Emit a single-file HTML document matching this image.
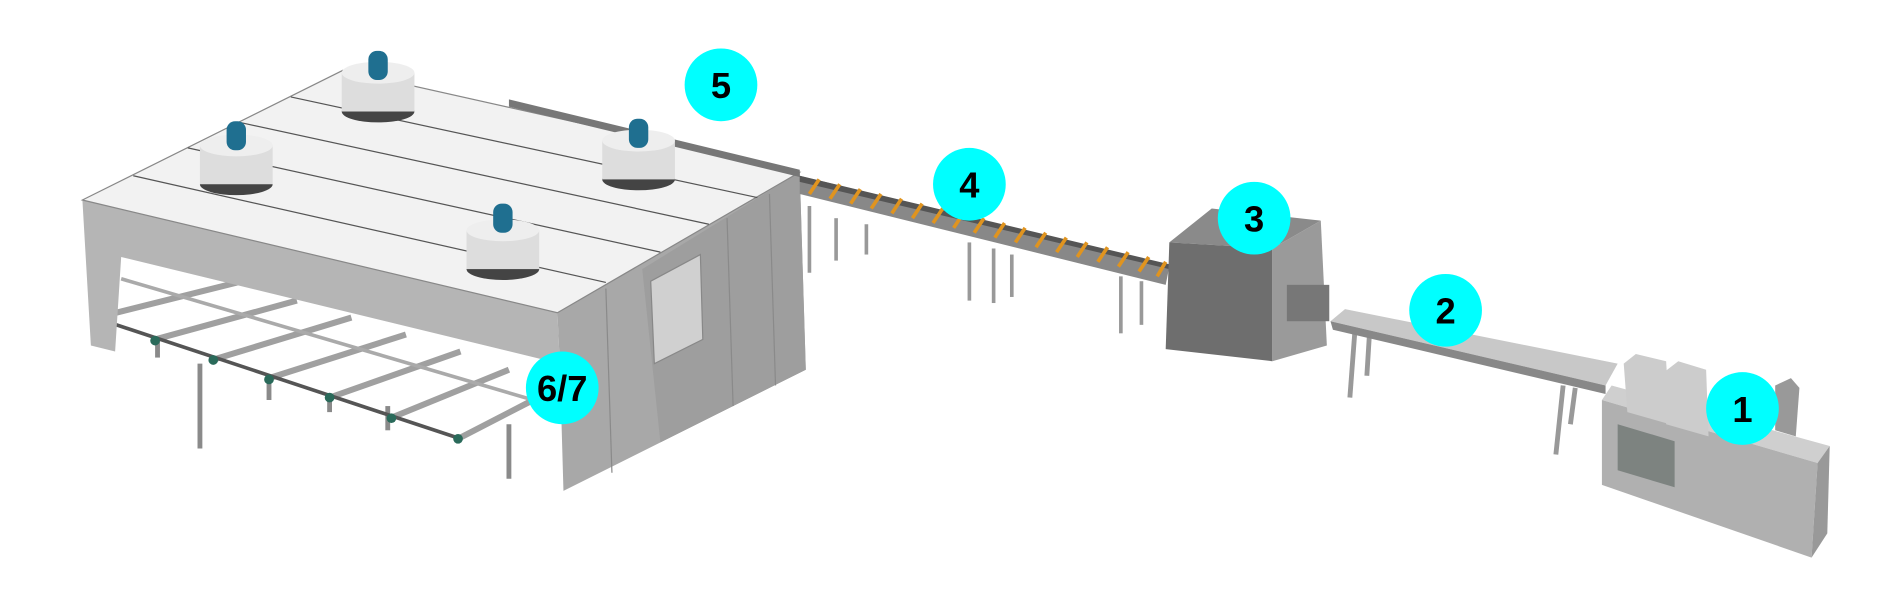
<!DOCTYPE html>
<html><head><meta charset="utf-8"><style>
html,body{margin:0;padding:0;background:#fff;}
svg{display:block}
text{font-family:"Liberation Sans",Arial,sans-serif;font-weight:bold;fill:#000}
</style></head><body>
<svg width="1900" height="600" viewBox="0 0 1568 495" preserveAspectRatio="none" xmlns="http://www.w3.org/2000/svg">
<!-- oven legs / conveyor under -->
<g stroke="#8a8a8a" stroke-width="4" fill="none">
<line x1="130" y1="280" x2="130" y2="295"/><line x1="165" y1="300" x2="165" y2="370"/>
<line x1="222" y1="315" x2="222" y2="330"/><line x1="272" y1="325" x2="272" y2="340"/>
<line x1="320" y1="335" x2="320" y2="355"/><line x1="420" y1="350" x2="420" y2="395"/>
</g>
<g stroke="#a0a0a0" stroke-width="5">
<line x1="80" y1="262" x2="200" y2="232"/><line x1="128" y1="280" x2="245" y2="248"/>
<line x1="175" y1="297" x2="290" y2="262"/><line x1="222" y1="312" x2="335" y2="276"/>
<line x1="272" y1="328" x2="380" y2="290"/><line x1="322" y1="345" x2="420" y2="305"/>
<line x1="378" y1="362" x2="440" y2="330"/>
</g>
<line x1="78" y1="262" x2="380" y2="362" stroke="#555" stroke-width="3"/>
<line x1="100" y1="230" x2="440" y2="330" stroke="#aaa" stroke-width="3"/>
<g fill="#2a6a5a"><circle cx="80" cy="264" r="4"/><circle cx="128" cy="281" r="4"/><circle cx="176" cy="297" r="4"/><circle cx="222" cy="313" r="4"/><circle cx="272" cy="328" r="4"/><circle cx="323" cy="345" r="4"/><circle cx="378" cy="362" r="4"/></g>
<!-- oven front skirt -->
<polygon points="68,165 460,258 462,300 100,212 95,290 75,285" fill="#b5b5b5"/>
<!-- right end face -->
<polygon points="460,258 660,142 665,305 465,405 462,300" fill="#a8a8a8"/>
<polygon points="530,222 660,142 665,305 545,365" fill="#9e9e9e"/>
<polygon points="537,232 578,210 580,280 540,300" fill="#d0d0d0" stroke="#888"/>
<line x1="500" y1="238" x2="505" y2="390" stroke="#8a8a8a"/>
<line x1="600" y1="180" x2="605" y2="335" stroke="#8a8a8a"/>
<line x1="635" y1="160" x2="640" y2="318" stroke="#8a8a8a"/>
<!-- top -->
<polygon points="68,165 283,58 660,142 460,258" fill="#f2f2f2" stroke="#888" stroke-width="1"/>
<polygon points="420,82 660,140 660,146 420,88" fill="#777"/>
<g stroke="#555" stroke-width="1">
<line x1="110" y1="145" x2="500" y2="233"/><line x1="155" y1="122" x2="545" y2="208"/>
<line x1="198" y1="101" x2="585" y2="185"/><line x1="240" y1="80" x2="625" y2="163"/>
</g>
<!-- fans -->
<g>
<ellipse cx="195" cy="152" rx="30" ry="9" fill="#444"/><rect x="165" y="120" width="60" height="32" fill="#ddd"/><ellipse cx="195" cy="120" rx="30" ry="9" fill="#eee"/><rect x="187" y="100" width="16" height="24" rx="7" fill="#1f6f90"/>
<ellipse cx="312" cy="92" rx="30" ry="9" fill="#444"/><rect x="282" y="60" width="60" height="32" fill="#ddd"/><ellipse cx="312" cy="60" rx="30" ry="9" fill="#eee"/><rect x="304" y="42" width="16" height="24" rx="7" fill="#1f6f90"/>
<ellipse cx="527" cy="148" rx="30" ry="9" fill="#444"/><rect x="497" y="116" width="60" height="32" fill="#ddd"/><ellipse cx="527" cy="116" rx="30" ry="9" fill="#eee"/><rect x="519" y="98" width="16" height="24" rx="7" fill="#1f6f90"/>
<ellipse cx="415" cy="222" rx="30" ry="9" fill="#444"/><rect x="385" y="190" width="60" height="32" fill="#ddd"/><ellipse cx="415" cy="190" rx="30" ry="9" fill="#eee"/><rect x="407" y="168" width="16" height="24" rx="7" fill="#1f6f90"/>
</g>
<!-- conveyor 4 -->
<g stroke="#999" stroke-width="3">
<line x1="690" y1="180" x2="690" y2="215"/><line x1="715" y1="185" x2="715" y2="210"/>
<line x1="800" y1="200" x2="800" y2="248"/><line x1="820" y1="205" x2="820" y2="250"/><line x1="835" y1="210" x2="835" y2="245"/>
<line x1="925" y1="228" x2="925" y2="275"/><line x1="942" y1="232" x2="942" y2="268"/>
<line x1="668" y1="170" x2="668" y2="225"/>
</g>
<polygon points="660,145 965,220 962,235 660,160" fill="#888"/>
<polygon points="660,145 965,218 965,222 660,150" fill="#555"/>
<g stroke="#e0941f" stroke-width="3">
<line x1="668" y1="160" x2="676" y2="148"/><line x1="685" y1="164" x2="693" y2="152"/><line x1="702" y1="168" x2="710" y2="156"/><line x1="719" y1="172" x2="727" y2="160"/><line x1="736" y1="176" x2="744" y2="164"/><line x1="753" y1="180" x2="761" y2="168"/><line x1="770" y1="184" x2="778" y2="172"/><line x1="787" y1="188" x2="795" y2="176"/><line x1="804" y1="192" x2="812" y2="180"/><line x1="821" y1="196" x2="829" y2="184"/><line x1="838" y1="200" x2="846" y2="188"/><line x1="855" y1="204" x2="863" y2="192"/><line x1="872" y1="208" x2="880" y2="196"/><line x1="889" y1="212" x2="897" y2="200"/><line x1="906" y1="216" x2="914" y2="204"/><line x1="923" y1="220" x2="931" y2="208"/><line x1="940" y1="224" x2="948" y2="212"/><line x1="955" y1="228" x2="962" y2="216"/>
</g>
<!-- machine 3 -->
<polygon points="965,200 1000,172 1090,182 1050,205" fill="#8a8a8a"/>
<polygon points="965,200 1050,205 1050,298 962,288" fill="#6e6e6e"/>
<polygon points="1050,205 1090,182 1095,285 1050,298" fill="#9a9a9a"/>
<rect x="1062" y="235" width="35" height="30" fill="#777"/>
<!-- conveyor 2 -->
<g stroke="#999" stroke-width="4">
<line x1="1118" y1="275" x2="1114" y2="328"/><line x1="1130" y1="278" x2="1128" y2="310"/>
<line x1="1290" y1="318" x2="1284" y2="375"/><line x1="1300" y1="320" x2="1296" y2="350"/>
</g>
<polygon points="1098,265 1110,255 1335,300 1325,318" fill="#c8c8c8"/>
<polygon points="1098,265 1325,318 1325,325 1100,272" fill="#888"/>
<!-- machine 1 -->
<polygon points="1322,330 1330,318 1510,368 1500,382" fill="#cfcfcf"/>
<polygon points="1322,330 1500,382 1495,460 1322,400" fill="#b0b0b0"/>
<polygon points="1500,382 1510,368 1508,440 1495,460" fill="#999"/>
<polygon points="1335,350 1382,364 1382,402 1335,388" fill="#7d8380"/>
<polygon points="1340,300 1350,292 1375,298 1378,350 1343,340" fill="#ccc"/>
<polygon points="1372,308 1385,298 1408,305 1410,360 1375,350" fill="#ccc"/>
<polygon points="1465,318 1478,312 1485,320 1482,360 1465,355" fill="#999"/>
<!-- labels -->
<g fill="#00ffff">
<circle cx="595" cy="70" r="30"/><circle cx="800" cy="152" r="30"/><circle cx="1035" cy="180" r="30"/>
<circle cx="1193" cy="256" r="30"/><circle cx="1438" cy="337" r="30"/><circle cx="464" cy="320" r="30"/>
</g>
<g font-size="30" text-anchor="middle">
<text x="595" y="81">5</text><text x="800" y="163">4</text><text x="1035" y="191">3</text>
<text x="1193" y="267">2</text><text x="1438" y="348">1</text><text x="464" y="331">6/7</text>
</g>
</svg>
</body></html>
